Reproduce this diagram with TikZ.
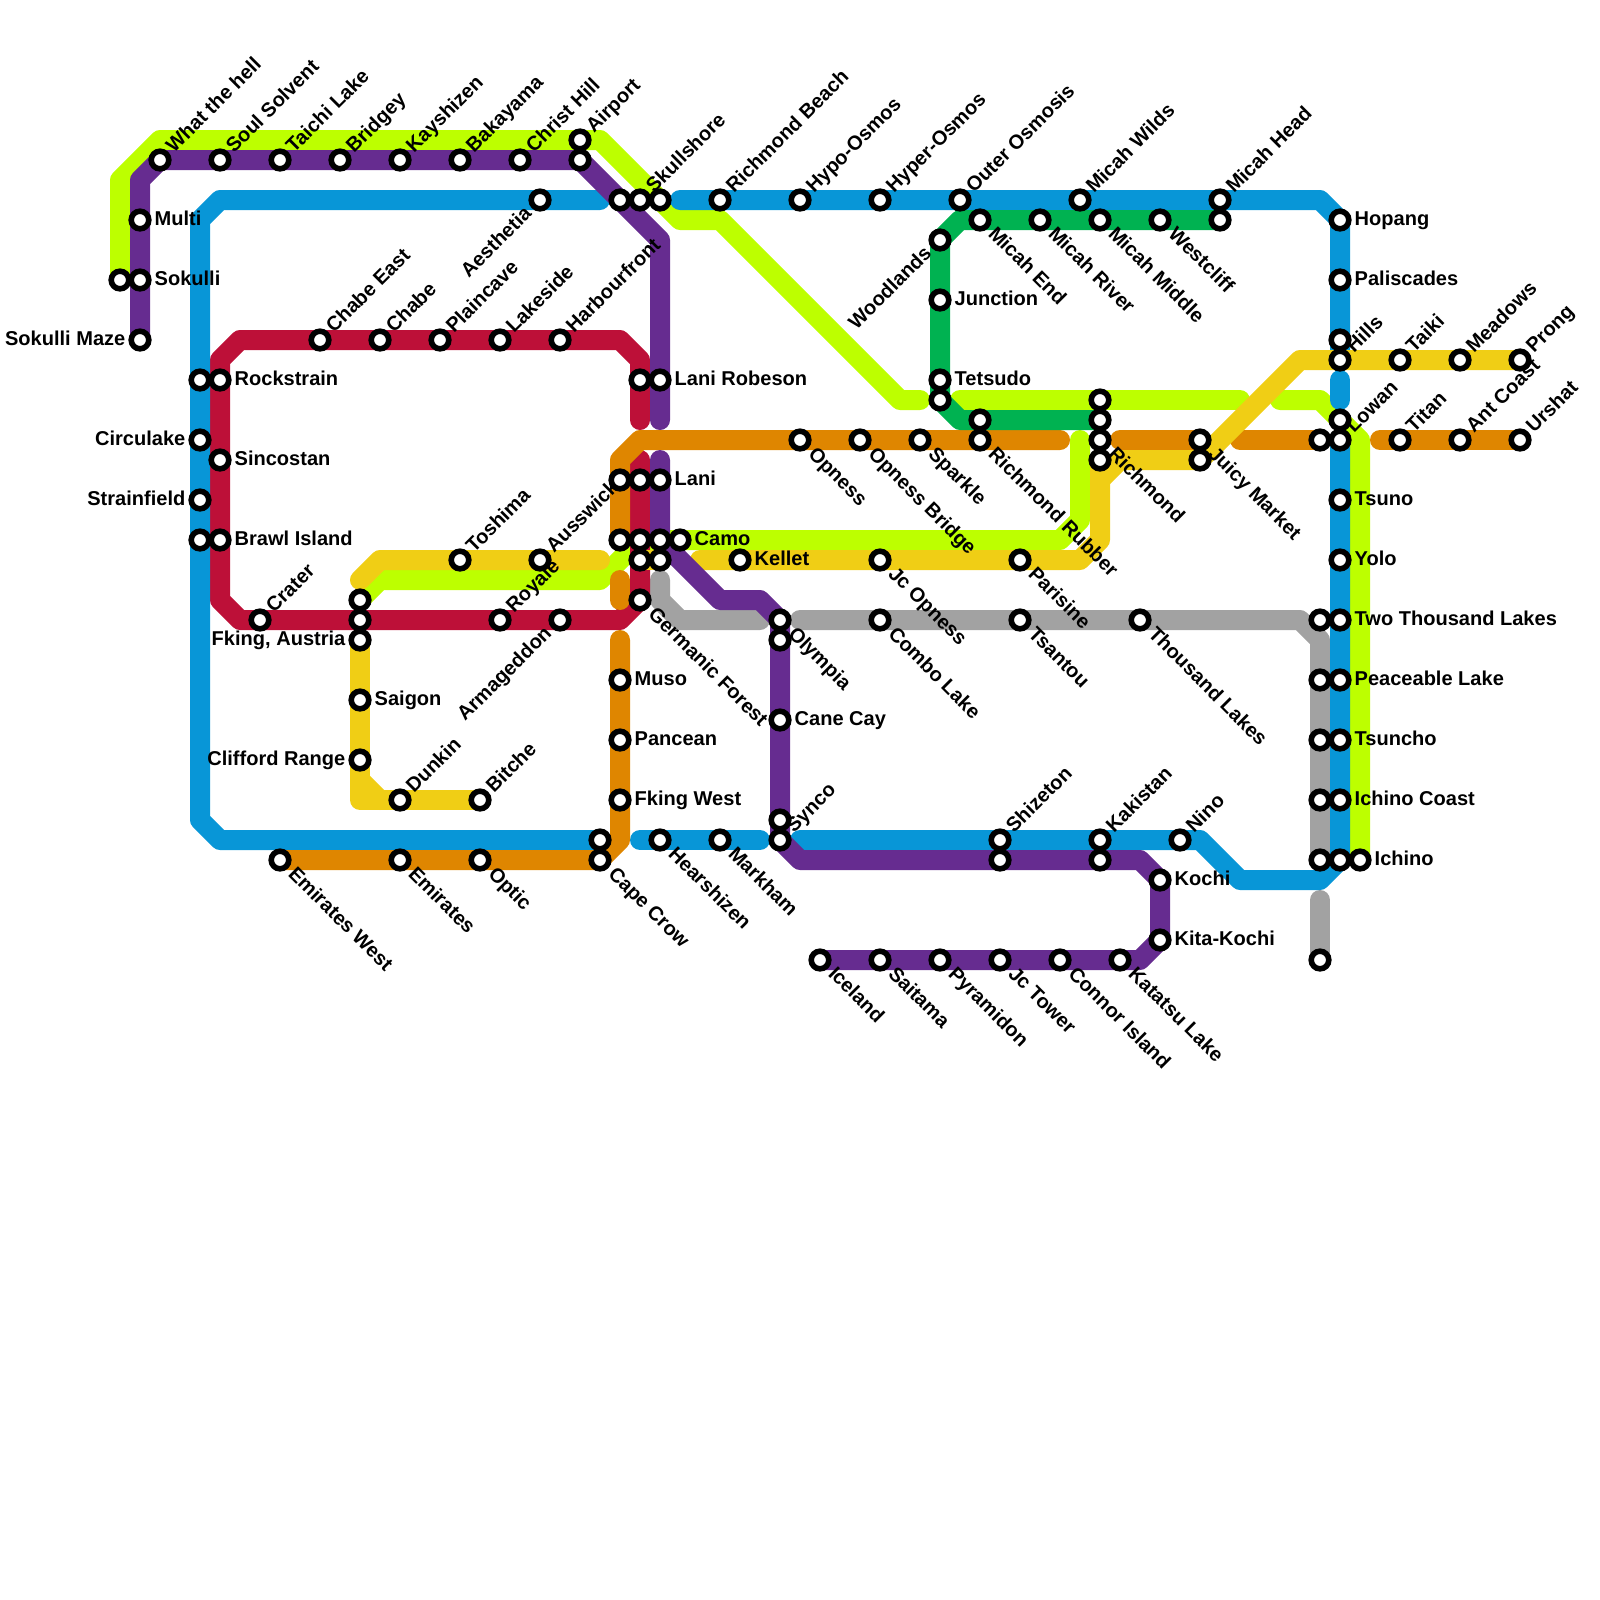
\documentclass[tikz,border=0pt]{standalone}
\usepackage{fontspec}
\setmainfont{Liberation Sans}
\usetikzlibrary{backgrounds}
\definecolor{limecol}{HTML}{BDFF00}
\definecolor{purpcol}{HTML}{662C90}
\definecolor{bluecol}{HTML}{0896D7}
\definecolor{redcol}{HTML}{BD1038}
\definecolor{orngcol}{HTML}{DF8600}
\definecolor{yelcol}{HTML}{F0CE15}
\definecolor{grncol}{HTML}{00B251}
\definecolor{greycol}{HTML}{A2A2A2}
\tikzset{
  ln/.style      = {line width=5mm, line cap=round, line join=round},
  lnlime/.style  = {ln, draw=limecol},
  lnpurp/.style  = {ln, draw=purpcol},
  lnblue/.style  = {ln, draw=bluecol},
  lnred/.style   = {ln, draw=redcol},
  lnorng/.style  = {ln, draw=orngcol},
  lnyel/.style   = {ln, draw=yelcol},
  lngrn/.style   = {ln, draw=grncol},
  lngrey/.style  = {ln, draw=greycol},
  stn/.style     = {circle, draw=black, fill=white, line width=1.4mm,
                    minimum size=4.4mm, inner sep=0pt},
  lbl/.style     = {font=\bfseries\fontsize{14.25}{16}\selectfont, inner sep=0pt},
  lblr/.style    = {lbl, anchor=base west},
  lbll/.style    = {lbl, anchor=base east},
  lblne/.style   = {lbl, anchor=base west, rotate=45},
  lblse/.style   = {lbl, anchor=base west, rotate=-45},
  lblsw/.style   = {lbl, anchor=base east, rotate=45},
}
\begin{document}
\begin{tikzpicture}[x=5mm, y=-5mm]
  \useasboundingbox (0,0) rectangle (80,80);

  %% ---------------- stations without a label ----------------
  \foreach \x/\y in {6/14, 29/8, 31/10, 33/10, 10/19, 10/27, 18/30, 18/31, 31/24, 32/24, 31/27, 32/27, 33/27,
      32/28, 33/28, 32/19, 39/32, 39/41, 30/42, 47/20, 49/21, 55/20, 55/21, 55/23, 61/11,
      60/23, 66/22, 67/21, 67/17, 66/31, 66/34, 66/37, 66/40, 66/43, 67/43, 66/48, 50/43, 55/43} {
    \node[stn] (s\x x\y) at (\x,\y) {};
  }

  %% ---------------- label to the right ----------------
  \foreach \x/\y/\id/\txt in {
      7/11/multi/Multi, 7/14/sokulli/Sokulli, 11/19/rockstrain/Rockstrain,
      11/23/sincostan/Sincostan, 11/27/brawlisland/Brawl Island, 18/35/saigon/Saigon,
      33/19/lanirobeson/Lani Robeson, 33/24/lani/Lani, 34/27/camo/Camo, 37/28/kellet/Kellet,
      31/34/muso/Muso, 31/37/pancean/Pancean, 31/40/fkingwest/Fking West, 39/36/canecay/Cane Cay,
      47/15/junction/Junction, 47/19/tetsudo/Tetsudo, 58/44/kochi/Kochi, 58/47/kitakochi/Kita-Kochi,
      67/11/hopang/Hopang, 67/14/paliscades/Paliscades, 67/25/tsuno/Tsuno, 67/28/yolo/Yolo,
      67/31/twothousandlakes/Two Thousand Lakes, 67/34/peaceablelake/Peaceable Lake,
      67/37/tsuncho/Tsuncho, 67/40/ichinocoast/Ichino Coast, 68/43/ichino/Ichino} {
    \node[stn] (\id) at (\x,\y) {};
    \node[lblr] (\id-t) at (\x+.72,\y+.27) {\txt};
  }

  %% ---------------- label to the left ----------------
  \foreach \x/\y/\id/\txt in {
      7/17/sokullimaze/Sokulli Maze, 10/22/circulake/Circulake, 10/25/strainfield/Strainfield,
      18/32/fkingaustria/{Fking, Austria}, 18/38/cliffordrange/Clifford Range} {
    \node[stn] (\id) at (\x,\y) {};
    \node[lbll] (\id-t) at (\x-.72,\y+.27) {\txt};
  }

  %% ---------------- label going up ----------------
  \foreach \x/\y/\id/\txt in {
      8/8/whatthehell/What the hell, 11/8/soulsolvent/Soul Solvent, 14/8/taichilake/Taichi Lake,
      17/8/bridgey/Bridgey, 20/8/kayshizen/Kayshizen, 23/8/bakayama/Bakayama, 26/8/christhill/Christ Hill,
      29/7/airport/Airport, 32/10/skullshore/Skullshore, 36/10/richmondbeach/Richmond Beach,
      40/10/hypoosmos/Hypo-Osmos, 44/10/hyperosmos/Hyper-Osmos, 48/10/outerosmosis/Outer Osmosis,
      54/10/micahwilds/Micah Wilds, 61/10/micahhead/Micah Head, 16/17/chabeeast/Chabe East,
      19/17/chabe/Chabe, 22/17/plaincave/Plaincave, 25/17/lakeside/Lakeside, 28/17/harbourfront/Harbourfront,
      13/31/crater/Crater, 23/28/toshima/Toshima, 27/28/ausswick/Ausswick, 25/31/royale/Royale,
      20/40/dunkin/Dunkin, 24/40/bitche/Bitche, 39/42/synco/Synco, 50/42/shizeton/Shizeton,
      55/42/kakistan/Kakistan, 59/42/nino/Nino, 67/18/hills/Hills, 67/22/lowan/Lowan,
      70/18/taiki/Taiki, 73/18/meadows/Meadows, 76/18/prong/Prong,
      70/22/titan/Titan, 73/22/antcoast/Ant Coast, 76/22/urshat/Urshat} {
    \node[stn] (\id) at (\x,\y) {};
    \node[lblne] (\id-t) at (\x+.7,\y-.3) {\txt};
  }

  %% ---------------- label going down ----------------
  \foreach \x/\y/\id/\txt in {
      49/11/micahend/Micah End, 52/11/micahriver/Micah River, 55/11/micahmiddle/Micah Middle,
      58/11/westcliff/Westcliff, 40/22/opness/Opness, 43/22/opnessbridge/Opness Bridge,
      46/22/sparkle/Sparkle, 49/22/richmondrubber/Richmond Rubber, 55/22/richmond/Richmond,
      60/22/juicymarket/Juicy Market, 44/28/jcopness/Jc Opness, 51/28/parisine/Parisine,
      32/30/germanicforest/Germanic Forest, 39/31/olympia/Olympia, 44/31/combolake/Combo Lake,
      51/31/tsantou/Tsantou, 57/31/thousandlakes/Thousand Lakes, 14/43/emirateswest/Emirates West,
      20/43/emirates/Emirates, 24/43/optic/Optic, 30/43/capecrow/Cape Crow, 33/42/hearshizen/Hearshizen,
      36/42/markham/Markham, 41/48/iceland/Iceland, 44/48/saitama/Saitama, 47/48/pyramidon/Pyramidon,
      50/48/jctower/Jc Tower, 53/48/connorisland/Connor Island, 56/48/katatsulake/Katatsu Lake} {
    \node[stn] (\id) at (\x,\y) {};
    \node[lblse] (\id-t) at (\x+.36,\y+.74) {\txt};
  }

  %% ---------------- label running up to the station ----------------
  \foreach \x/\y/\id/\txt in {
      27/10/aesthetia/Aesthetia, 47/12/woodlands/Woodlands, 28/31/armageddon/Armageddon} {
    \node[stn] (\id) at (\x,\y) {};
    \node[lblsw] (\id-t) at (\x-.36,\y+.72) {\txt};
  }

  %% ---------------- free line ends ----------------
  \foreach \x/\y/\id in {
      46/20/limeA, 48/20/limeB, 62/20/limeC, 64/20/limeD, 54/22/limeE,
      33/21/purpA, 33/23/purpB, 32/21/redA, 32/23/redB,
      30/10/blueA, 34/10/blueB, 67/19/blueC, 67/20/blueD, 40/42/blueE, 32/42/blueF, 38/42/blueG,
      53/22/orngA, 31/29/orngB, 31/30/orngC, 31/32/orngD, 56/22/orngE, 62/22/orngF, 69/22/orngG,
      18/29/yelA, 30/28/yelB, 35/28/yelC, 55/24/yelD, 18/39/yelE, 19/40/yelF,
      33/29/greyA, 38/31/greyB, 40/31/greyC, 66/45/greyD} {
    \coordinate (\id) at (\x,\y);
  }

  \begin{scope}[on background layer]
    %% ================ the lines, bottom one first ================
    \draw[lnlime] (s6x14.center) -- (6,9) -- (8,7) -- (30,7) -- (34,11) -- (36,11) -- (45,20) -- (limeA);
    \draw[lnlime] (limeB) -- (limeC);
    \draw[lnlime] (limeD) -- (66,20) -- (68,22) -- (ichino.center);
    \draw[lnlime] (limeE) -- (54,26) -- (53,27) -- (s32x27.center) -- (30,29) -- (19,29) -- (s18x30.center);

    \draw[lngrey] (greyA) -- (33,30) -- (34,31) -- (greyB);
    \draw[lngrey] (greyC) -- (65,31) -- (66,32) -- (s66x43.center);
    \draw[lngrey] (greyD) -- (s66x48.center);

    \draw[lnred] (redA) -- (32,18) -- (31,17) -- (12,17) -- (11,18) -- (11,30) -- (12,31) -- (31,31)
      -- (germanicforest.center) -- (redB);

    \draw[lnblue] (blueA) -- (11,10) -- (10,11) -- (10,41) -- (11,42) -- (s30x42.center);
    \draw[lnblue] (blueB) -- (66,10) -- (67,11) -- (hills.center);
    \draw[lnblue] (blueC) -- (blueD);
    \draw[lnblue] (lowan.center) -- (67,43) -- (66,44) -- (62,44) -- (60,42) -- (blueE);
    \draw[lnblue] (blueF) -- (blueG);

    \draw[lnorng] (orngA) -- (32,22) -- (31,23) -- (s31x27.center);
    \draw[lnorng] (orngB) -- (orngC);
    \draw[lnorng] (orngD) -- (31,42) -- (capecrow.center) -- (emirateswest.center);
    \draw[lnorng] (orngE) -- (juicymarket.center);
    \draw[lnorng] (orngF) -- (s66x22.center);
    \draw[lnorng] (orngG) -- (urshat.center);

    \draw[lngrn] (s61x11.center) -- (48,11) -- (47,12) -- (s47x20.center) -- (48,21) -- (s55x21.center);

    \draw[lnyel] (yelA) -- (19,28) -- (yelB);
    \draw[lnyel] (s32x28.center) -- (s33x28.center);
    \draw[lnyel] (yelC) -- (54,28) -- (55,27) -- (s55x23.center);
    \draw[lnyel] (yelD) -- (56,23) -- (s60x23.center) -- (65,18) -- (prong.center);
    \draw[lnyel] (fkingaustria.center) -- (18,40) -- (bitche.center);
    \draw[lnyel] (yelE) -- (yelF);

    \draw[lnpurp] (sokullimaze.center) -- (7,9) -- (8,8) -- (s29x8.center) -- (33,12) -- (purpA);
    \draw[lnpurp] (purpB) -- (33,27) -- (36,30) -- (38,30) -- (olympia.center) -- (39,42) -- (40,43)
      -- (57,43) -- (58,44) -- (58,47) -- (57,48) -- (iceland.center);
  \end{scope}

\end{tikzpicture}
\end{document}
